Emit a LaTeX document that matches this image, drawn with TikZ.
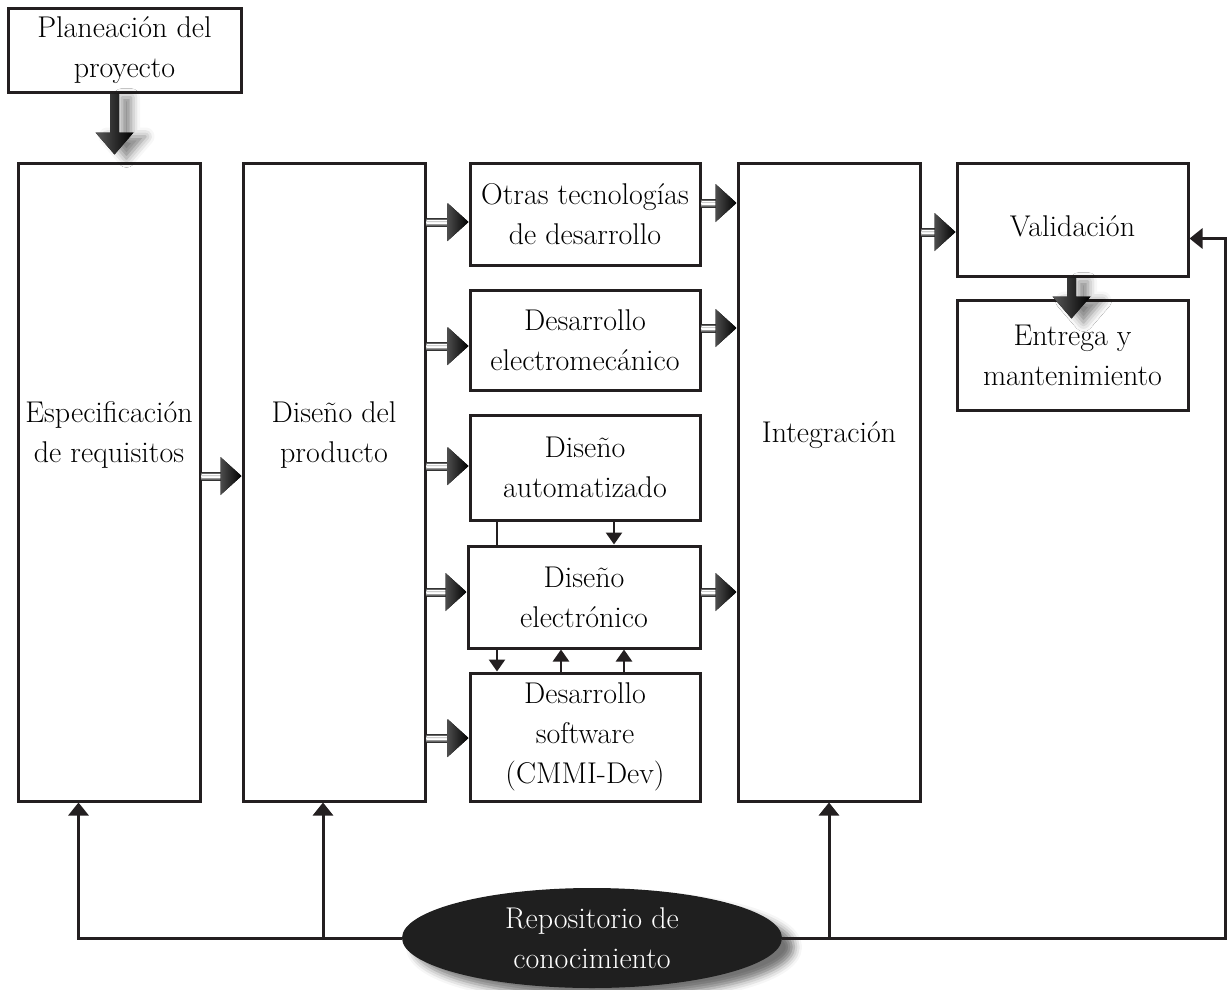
\documentclass[tikz,border=0pt]{standalone}
\usetikzlibrary{arrows.meta,shapes.geometric,shadows.blur,calc}
\definecolor{ink}{HTML}{231F20}
\newcommand\mainsz{\fontsize{30}{40}\selectfont}

% double-line shaft with a shaded triangular head, from #1 to #2 at height #3
\newcommand\fatarrow[3]{%
  \path (#1.east |- 0,#3) coordinate (fa-a) (#2.west |- 0,#3) coordinate (fa-b);
  \shade[top color=black!80, bottom color=black!80, middle color=white]
    ($(fa-a)+(0,-4)$) rectangle ($(fa-b)+(-19,4)$);
  \draw[white, line width=0.8pt] ($(fa-a)+(0,-1.5)$) -- ($(fa-b)+(-19,-1.5)$)
                                 ($(fa-a)+(0,1.5)$) -- ($(fa-b)+(-19,1.5)$);
  \fill[left color=black!70, right color=black]
    (fa-b) -- ++(-21,-19) -- ++(0,38) -- cycle;
}

% thick downward arrow with a soft shadow, from #1 to #2 at x = #3, tip #4 above the target top
\newcommand\droparrow[4]{%
  \path (#1.south -| #3,0) coordinate (da-s) (#2.north -| #3,0) coordinate (da-t);
  \path (da-t) ++(0,{-(#4)}) coordinate (da-tip);
  \fill[left color=black!65, right color=black,
        blur shadow={shadow xshift=12pt, shadow yshift=-4pt, shadow opacity=50, shadow blur radius=9pt}]
    ($(da-s)+(-4.5,0)$) -- ($(da-tip)+(-4.5,-22)$) -- ($(da-tip)+(-19,-22)$) -- (da-tip)
    -- ($(da-tip)+(19,-22)$) -- ($(da-tip)+(4.5,-22)$) -- ($(da-s)+(4.5,0)$) -- cycle;
}

\tikzset{
  box/.style={draw=ink, line width=3pt, fill=white, align=center, inner sep=0pt, font=\mainsz, text=black},
  tallbox/.style={box, minimum width=182pt, minimum height=638pt},
  boxtext/.style={font=\mainsz, align=center, text=black, yshift=47pt},
  link/.style={draw=ink, line width=3pt, -{Triangle[width=20pt,length=13pt]}},
  minilink/.style={draw=ink, line width=2.6pt, -{Triangle[width=16pt,length=12pt]}},
  plainlink/.style={draw=ink, line width=2.6pt},
}

\begin{document}
\begin{tikzpicture}[x=1pt,y=-1pt]
\useasboundingbox (0,0) rectangle (1229,990);

% process boxes
\node[box, minimum width=233pt, minimum height=83pt] (plan) at (124.5,50.5) {Planeación del\\proyecto};
\node[tallbox, label={[boxtext]center:{Especificación\\de requisitos}}] (esp) at (109,482) {};
\node[tallbox, label={[boxtext]center:{Diseño del\\producto}}] (dis) at (334,482) {};
\node[box, minimum width=230pt, minimum height=102pt] (otras) at (585,214) {Otras tecnologías\\de desarrollo};
\node[box, minimum width=230pt, minimum height=100pt] (elec) at (585,340) {Desarrollo\\electromecánico};
\node[box, minimum width=230pt, minimum height=105pt] (auto) at (585,467.5) {Diseño\\automatizado};
\node[box, minimum width=232pt, minimum height=102pt] (eln) at (584,597) {Diseño\\electrónico};
\node[box, minimum width=230pt, minimum height=128pt] (soft) at (585,737) {Desarrollo\\software\\(CMMI-Dev)};
\node[tallbox, label={[boxtext]center:{Integración}}] (int) at (829,482) {};
\node[box, minimum width=231pt, minimum height=113pt, label={[boxtext, yshift=-54pt]center:{Validación}}] (val) at (1072.5,219.5) {};
\node[box, minimum width=231pt, minimum height=110pt] (ent) at (1072.5,355) {Entrega y\\mantenimiento};

% knowledge repository
\node[ellipse, fill=black!88, minimum width=380pt, minimum height=100pt, inner sep=0pt,
      align=center, text=white, font=\mainsz,
      blur shadow={shadow xshift=12pt, shadow yshift=-9pt, shadow opacity=55, shadow blur radius=8pt}]
  (repo) at (592,938) {Repositorio de\\conocimiento};

% thick flow arrows
\droparrow{plan}{esp}{114.5}{7}
\droparrow{val}{ent}{1071.5}{-20}
\fatarrow{esp}{dis}{476}
\fatarrow{dis}{otras}{222}
\fatarrow{dis}{elec}{346}
\fatarrow{dis}{auto}{466}
\fatarrow{dis}{eln}{592}
\fatarrow{dis}{soft}{738}
\fatarrow{otras}{int}{203}
\fatarrow{elec}{int}{328}
\fatarrow{eln}{int}{592}
\fatarrow{int}{val}{232}

% links between the design boxes
\draw[plainlink] (auto.south -| 497,0) -- (eln.north -| 497,0);
\draw[minilink] (auto.south -| 614,0) -- (eln.north -| 614,0);
\draw[minilink] (eln.south -| 497,0) -- (soft.north -| 497,0);
\draw[minilink] (soft.north -| 561,0) -- (eln.south -| 561,0);
\draw[minilink] (soft.north -| 624,0) -- (eln.south -| 624,0);

% feedback from the repository
\coordinate (efoot) at ($(esp.south west)+(62,0)$);
\coordinate (dfoot) at ($(dis.south)+(-11,0)$);
\coordinate (rside) at (1225,0);
\coordinate (vin) at ($(val.east)+(0,19)$);
\draw[link] (repo.west) -| (efoot);
\draw[link] (dfoot |- repo.west) -- (dfoot);
\draw[link] (int.south |- repo.east) -- (int.south);
\draw[link] (repo.east) -- (repo.east -| rside) |- (vin);
\end{tikzpicture}
\end{document}
